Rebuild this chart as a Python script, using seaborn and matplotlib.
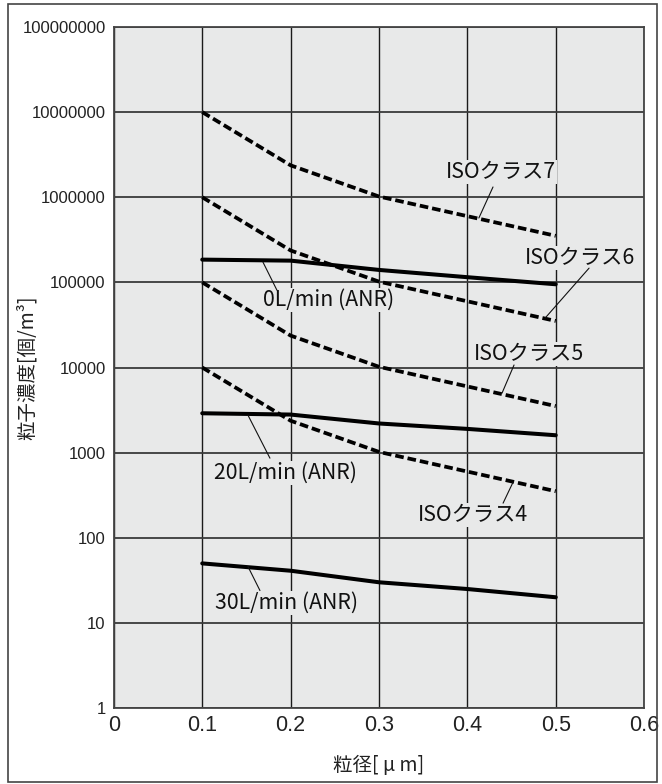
import numpy as np
import pandas as pd
import matplotlib
matplotlib.use("Agg")
import matplotlib.pyplot as plt
from matplotlib.patches import Rectangle
import seaborn as sns

# ---- data ----
iso_sizes = [0.1, 0.2, 0.3, 0.5]
iso7 = [10000000, 2370000, 1020000, 352000]
iso6 = [1000000, 237000, 102000, 35200]
iso5 = [100000, 23700, 10200, 3520]
iso4 = [10000, 2370, 1020, 352]

flow_sizes = [0.1, 0.2, 0.3, 0.4, 0.5]
flow0 = [185000, 180000, 140000, 115000, 95000]
flow20 = [2900, 2800, 2200, 1900, 1600]
flow30 = [50, 41, 30, 25, 20]

x_ticks = [0, 0.1, 0.2, 0.3, 0.4, 0.5, 0.6]
x_ticklabels = ["0", "0.1", "0.2", "0.3", "0.4", "0.5", "0.6"]
y_ticks = [1, 10, 100, 1000, 10000, 100000, 1000000, 10000000, 100000000]
y_ticklabels = ["1", "10", "100", "1000", "10000", "100000", "1000000", "10000000", "100000000"]

x_label = "粒径[ μ m]"
y_label = "粒子濃度[個/m³]"

# label: (text, text x, text y, leader start (x,y), leader end (x,y))
annotations = [
    ("ISOクラス7", 0.438, 1.98e6, (0.429, 1.32e6), (0.413, 5.7e5)),
    ("ISOクラス6", 0.5275, 1.93e5, (0.5377, 1.47e5), (0.4879, 3.8e4)),
    ("0L/min (ANR)", 0.2434, 6.2e4, (0.1687, 1.73e5), (0.1845, 8.1e4)),
    ("ISOクラス5", 0.4698, 1.44e4, (0.4528, 1.07e4), (0.4392, 5.0e3)),
    ("20L/min (ANR)", 0.1947, 5.74e2, (0.1517, 2.76e3), (0.1766, 8.61e2)),
    ("ISOクラス4", 0.4064, 1.85e2, (0.4517, 4.5e2), (0.4404, 2.55e2)),
    ("30L/min (ANR)", 0.1958, 17, (0.1517, 46), (0.1653, 24)),
]

sns.set_style("white")
plt.rcParams["font.family"] = ["Noto Sans CJK JP", "DejaVu Sans"]

fig = plt.figure(figsize=(6.62, 7.84), dpi=100)
ax = fig.add_axes([0.172, 0.0969, 0.801, 0.8687])
ax.set_facecolor("#e8e9e9")

dash = (2.3, 1.05)
for vals in [iso7, iso6, iso5, iso4]:
    df = pd.DataFrame({"size": iso_sizes, "conc": vals})
    sns.lineplot(data=df, x="size", y="conc", ax=ax, color="black",
                 linewidth=2.7, dashes=False, linestyle=(0, dash), zorder=3)
for vals in [flow0, flow20, flow30]:
    df = pd.DataFrame({"size": flow_sizes, "conc": vals})
    sns.lineplot(data=df, x="size", y="conc", ax=ax, color="black",
                 linewidth=2.9, zorder=3)

ax.set_yscale("log")
ax.set_xlim(0, 0.6)
ax.set_ylim(1, 1e8)
ax.set_xticks(x_ticks)
ax.set_xticklabels(x_ticklabels, family=["Liberation Sans", "DejaVu Sans"], fontsize=15.5, color="#222")
ax.set_yticks(y_ticks)
ax.set_yticklabels(y_ticklabels, family=["Liberation Sans", "DejaVu Sans"],
                   fontsize=12, color="#222")
ax.yaxis.set_minor_locator(matplotlib.ticker.NullLocator())
ax.tick_params(axis="both", length=0)
ax.tick_params(axis="y", pad=6)
ax.tick_params(axis="x", pad=5)

ax.grid(True, which="major", axis="x", color="#1a1a1a", linewidth=1.0, zorder=1)
ax.grid(True, which="major", axis="y", color="#3a3a3a", linewidth=1.3, zorder=1)
ax.set_axisbelow(True)
for s in ax.spines.values():
    s.set_color("#444")
    s.set_linewidth(1.3)
    s.set_visible(True)

ax.set_xlabel(x_label, fontsize=14, color="#222")
ax.set_ylabel(y_label, fontsize=14, color="#222")
ax.xaxis.label.set_verticalalignment("center")
ax.yaxis.label.set_verticalalignment("center")
ax.xaxis.set_label_coords(0.5, -0.085)
ax.yaxis.set_label_coords(-0.164, 0.5)

for text, tx, ty, p0, p1 in annotations:
    ax.text(tx, ty, text, ha="center", va="center", fontsize=15.3,
            color="#111", zorder=4,
            bbox=dict(boxstyle="square,pad=0.05", fc="#e8e9e9", ec="none"))
    ax.annotate("", xy=p1, xytext=p0,
                arrowprops=dict(arrowstyle="-", color="#111", lw=0.8,
                                shrinkA=0, shrinkB=0), zorder=4)

fig.patches.append(Rectangle((8 / 662, 1 - 782 / 784), 649 / 662, 778 / 784,
                             transform=fig.transFigure, fill=False,
                             edgecolor="#444", linewidth=1.2))

fig.savefig("out.png", dpi=100)
